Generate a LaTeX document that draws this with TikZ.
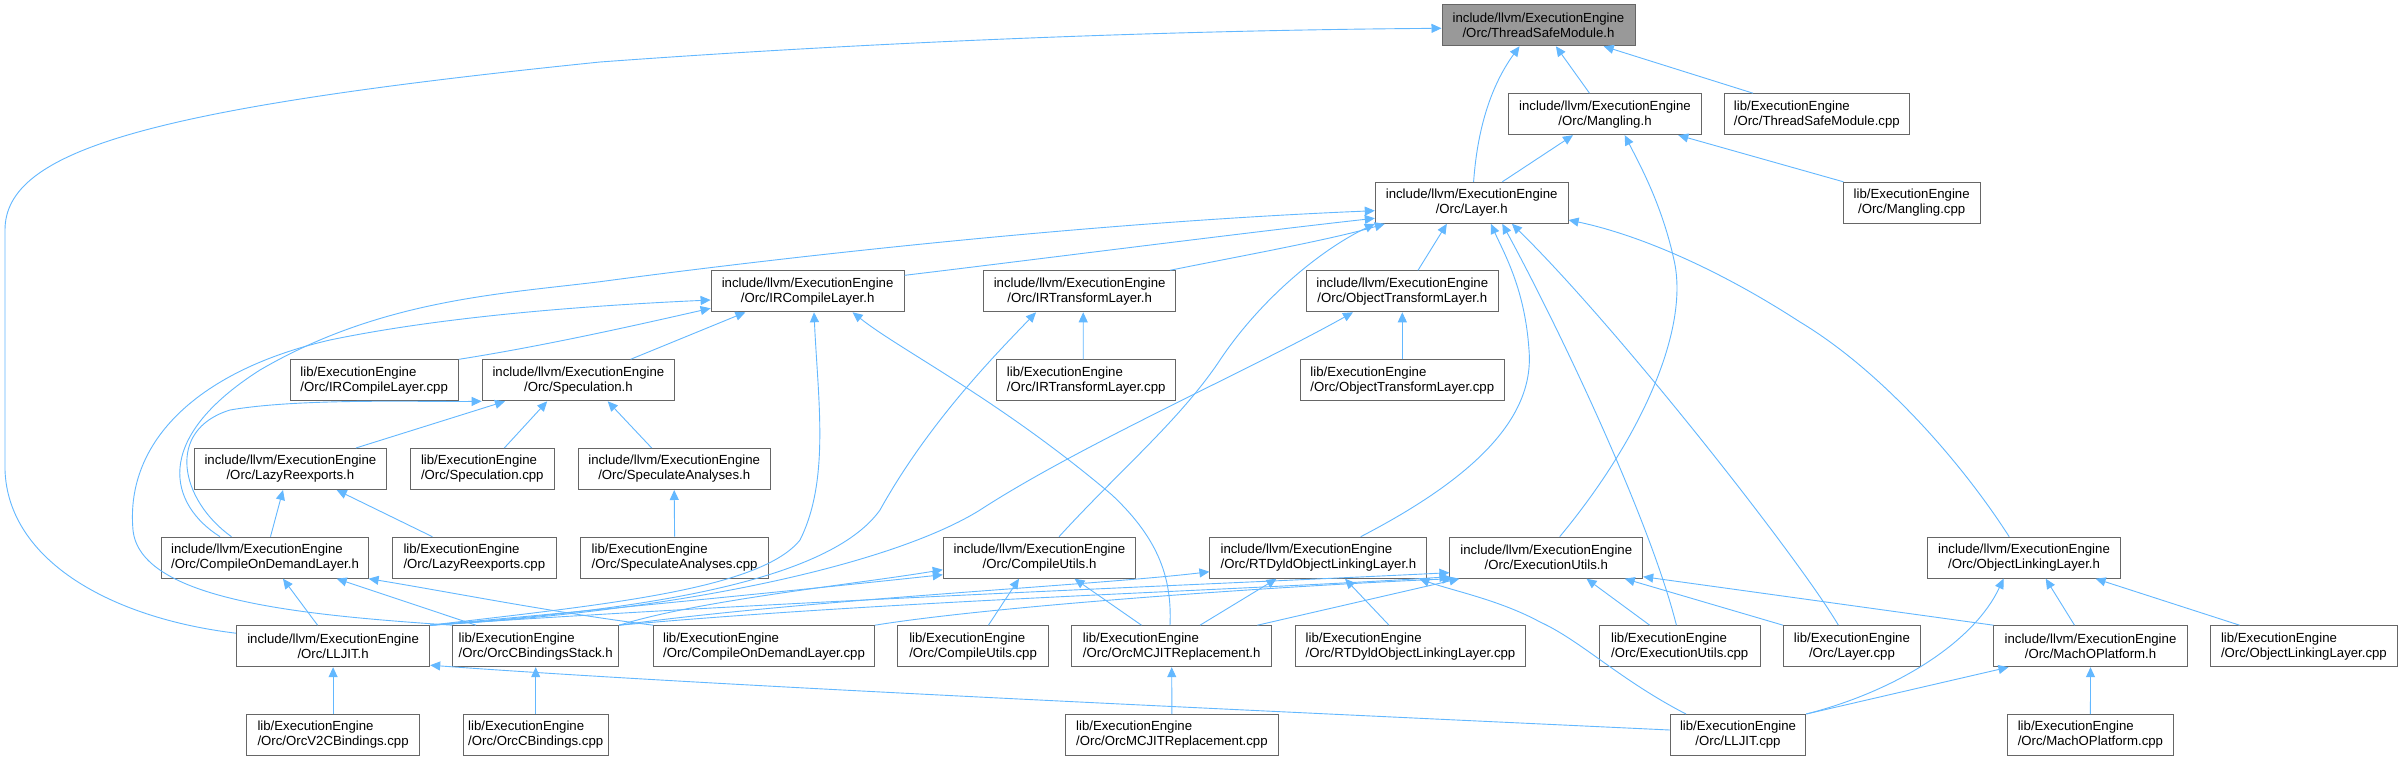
\documentclass[tikz,border=0pt]{standalone}
\usepackage{fontspec}
\setmainfont{Liberation Sans}
\usetikzlibrary{arrows.meta}
\definecolor{edgeblue}{HTML}{63B8FF}
\definecolor{boxgray}{HTML}{666666}
\definecolor{tsmfill}{HTML}{999999}
\newcommand{\nodefont}{\fontsize{13.2pt}{15pt}\selectfont}
\begin{document}
\begin{tikzpicture}[x=1pt,y=-1pt,
  box/.style={draw=boxgray, line width=1pt, fill=white, font=\nodefont, inner xsep=4pt, inner ysep=0pt, minimum height=41pt, anchor=center},
  lft/.style={align=left},
  ctr/.style={align=center},
  dep/.style={draw=edgeblue, line width=0.9pt, -{Triangle[length=10pt,width=9pt]}}]
\useasboundingbox[fill=white] (0,0) rectangle (2402,761);
% row 0-2
\node[box, ctr, fill=tsmfill, minimum width=193pt] (TSM) at (1538.5,25.3) {include/llvm/ExecutionEngine\\/Orc/ThreadSafeModule.h};
\node[box, ctr, minimum width=192.5pt] (Mang) at (1605,114.2) {include/llvm/ExecutionEngine\\/Orc/Mangling.h};
\node[box, lft, minimum width=185pt] (TSMcpp) at (1816.8,114.2) {lib/ExecutionEngine\\/Orc/ThreadSafeModule.cpp};
\node[box, ctr, minimum width=136.6pt] (Mangcpp) at (1911.7,202.8) {lib/ExecutionEngine\\/Orc/Mangling.cpp};
\node[box, ctr, minimum width=192.8pt] (Layer) at (1471.7,202.8) {include/llvm/ExecutionEngine\\/Orc/Layer.h};
% row 3
\node[box, ctr, minimum width=193pt] (IRC) at (807.6,291.3) {include/llvm/ExecutionEngine\\/Orc/IRCompileLayer.h};
\node[box, ctr, minimum width=192.5pt] (IRT) at (1079.6,291.3) {include/llvm/ExecutionEngine\\/Orc/IRTransformLayer.h};
\node[box, ctr, minimum width=192.5pt] (OTL) at (1402.3,291.3) {include/llvm/ExecutionEngine\\/Orc/ObjectTransformLayer.h};
% row 4
\node[box, lft, minimum width=168.4pt] (IRCcpp) at (374.2,380.3) {lib/ExecutionEngine\\/Orc/IRCompileLayer.cpp};
\node[box, ctr, minimum width=192.5pt] (Spec) at (578.4,380.3) {include/llvm/ExecutionEngine\\/Orc/Speculation.h};
\node[box, lft, minimum width=179.5pt] (IRTcpp) at (1086.2,380.3) {lib/ExecutionEngine\\/Orc/IRTransformLayer.cpp};
\node[box, lft, minimum width=204pt] (OTLcpp) at (1402.3,380.3) {lib/ExecutionEngine\\/Orc/ObjectTransformLayer.cpp};
% row 5
\node[box, ctr, minimum width=192pt] (Lazy) at (290.4,469) {include/llvm/ExecutionEngine\\/Orc/LazyReexports.h};
\node[box, lft, minimum width=143.5pt] (Speccpp) at (482.3,469) {lib/ExecutionEngine\\/Orc/Speculation.cpp};
\node[box, ctr, minimum width=192pt] (SA) at (674.2,469) {include/llvm/ExecutionEngine\\/Orc/SpeculateAnalyses.h};
% row 6
\node[box, lft, minimum width=206.2pt] (CODL) at (265,557.7) {include/llvm/ExecutionEngine\\/Orc/CompileOnDemandLayer.h};
\node[box, lft, minimum width=163.4pt] (Lazycpp) at (474.3,557.7) {lib/ExecutionEngine\\/Orc/LazyReexports.cpp};
\node[box, lft, minimum width=187.5pt] (SAcpp) at (674.6,557.7) {lib/ExecutionEngine\\/Orc/SpeculateAnalyses.cpp};
\node[box, ctr, minimum width=192.5pt] (CU) at (1039.5,557.7) {include/llvm/ExecutionEngine\\/Orc/CompileUtils.h};
\node[box, lft, minimum width=217pt] (RTD) at (1318.4,557.7) {include/llvm/ExecutionEngine\\/Orc/RTDyldObjectLinkingLayer.h};
\node[box, ctr, minimum width=192.8pt] (EU) at (1546.3,557.7) {include/llvm/ExecutionEngine\\/Orc/ExecutionUtils.h};
\node[box, ctr, minimum width=193pt] (OLL) at (2024,557.7) {include/llvm/ExecutionEngine\\/Orc/ObjectLinkingLayer.h};
% row 7
\node[box, ctr, minimum width=193.2pt] (LLJIT) at (333.1,646.2) {include/llvm/ExecutionEngine\\/Orc/LLJIT.h};
\node[box, lft, minimum width=166pt] (OBS) at (535.7,646.2) {lib/ExecutionEngine\\/Orc/OrcCBindingsStack.h};
\node[box, lft, minimum width=220.8pt] (CODLcpp) at (764,646.2) {lib/ExecutionEngine\\/Orc/CompileOnDemandLayer.cpp};
\node[box, lft, minimum width=150.8pt] (CUcpp) at (973.1,646.2) {lib/ExecutionEngine\\/Orc/CompileUtils.cpp};
\node[box, lft, minimum width=199.8pt] (MCJ) at (1171.7,646.2) {lib/ExecutionEngine\\/Orc/OrcMCJITReplacement.h};
\node[box, lft, minimum width=230.3pt] (RTDcpp) at (1410.5,646.2) {lib/ExecutionEngine\\/Orc/RTDyldObjectLinkingLayer.cpp};
\node[box, lft, minimum width=161.1pt] (EUcpp) at (1679.7,646.2) {lib/ExecutionEngine\\/Orc/ExecutionUtils.cpp};
\node[box, ctr, minimum width=136.7pt] (Layercpp) at (1851.9,646.2) {lib/ExecutionEngine\\/Orc/Layer.cpp};
\node[box, ctr, minimum width=193.1pt] (MachO) at (2090.5,646.2) {include/llvm/ExecutionEngine\\/Orc/MachOPlatform.h};
\node[box, lft, minimum width=186.2pt] (OLLcpp) at (2303.9,646.2) {lib/ExecutionEngine\\/Orc/ObjectLinkingLayer.cpp};
% row 8
\node[box, lft, minimum width=173.4pt] (V2) at (333.1,735) {lib/ExecutionEngine\\/Orc/OrcV2CBindings.cpp};
\node[box, lft, minimum width=145.4pt] (OCB) at (535.7,735) {lib/ExecutionEngine\\/Orc/OrcCBindings.cpp};
\node[box, lft, minimum width=213pt] (MCJcpp) at (1171.9,735) {lib/ExecutionEngine\\/Orc/OrcMCJITReplacement.cpp};
\node[box, ctr, minimum width=135.5pt] (LLJITcpp) at (1738,735) {lib/ExecutionEngine\\/Orc/LLJIT.cpp};
\node[box, lft, minimum width=166.2pt] (MachOcpp) at (2090.4,735) {lib/ExecutionEngine\\/Orc/MachOPlatform.cpp};

% ---- edges (child -> included header) ----
\draw[dep] ([yshift=13pt]LLJIT.west) .. controls (110,618) and (8,560) .. (5,470) -- (5,230) .. controls (5,150) and (150,108) .. (600,62) .. controls (900,40) and (1200,30) .. ([yshift=-3pt]TSM.west);
\draw[dep] ([xshift=1.9pt]Layer.north) .. controls (1478,120) and (1495,80) .. ([xshift=-19pt]TSM.south);
\draw[dep] ([xshift=-15.5pt]Mang.north) -- ([xshift=17.4pt]TSM.south);
\draw[dep] ([xshift=-63.8pt]TSMcpp.north) -- ([xshift=65.2pt]TSM.south);
\draw[dep] ([xshift=30.6pt]Layer.north) -- ([xshift=-32pt]Mang.south);
\draw[dep] ([xshift=-68.3pt]Mangcpp.north) -- ([xshift=73.3pt]Mang.south);
\draw[dep] ([xshift=13.4pt]EU.north) .. controls (1640,440) and (1690,330) .. (1674,260) .. controls (1662,205) and (1640,165) .. ([xshift=19.7pt]Mang.south);
% Layer.h
\draw[dep] ([yshift=-5pt]IRC.north east) .. controls (1000,264) and (1250,232) .. ([yshift=-15.5pt]Layer.west);
\draw[dep] ([xshift=90.4pt]IRT.north) .. controls (1230,258) and (1330,240) .. ([xshift=10pt]Layer.south west);
\draw[dep] ([xshift=15.7pt]OTL.north) -- ([xshift=-24.9pt]Layer.south);
\draw[dep] ([xshift=-45pt]CODL.north) .. controls (170,505) and (150,440) .. (260,370) .. controls (380,300) and (500,294) .. (600,281.7) .. controls (800,255) and (1100,222) .. ([yshift=-7.9pt]Layer.west);
\draw[dep] ([xshift=19.5pt]CU.north) .. controls (1120,470) and (1180,420) .. (1220,360) .. controls (1260,300) and (1320,250) .. (Layer.south west);
\draw[dep] ([xshift=42.3pt]RTD.north) .. controls (1470,480) and (1535,420) .. (1529,350) .. controls (1525,290) and (1505,255) .. ([xshift=19.1pt]Layer.south);
\draw[dep] ([xshift=-3.3pt]EUcpp.north) .. controls (1650,520) and (1560,330) .. ([xshift=30.6pt]Layer.south);
\draw[dep] ([xshift=-13.5pt]Layercpp.north) .. controls (1800,560) and (1620,330) .. ([xshift=40.2pt]Layer.south);
\draw[dep] ([xshift=-14.8pt]OLL.north) .. controls (1960,460) and (1880,370) .. (1800,322) .. controls (1720,270) and (1640,235) .. ([yshift=-17.2pt]Layer.east);
% IRCompileLayer.h
\draw[dep] (IRCcpp.north east) .. controls (550,345) and (650,322) .. ([yshift=4pt]IRC.south west);
\draw[dep] ([xshift=52.2pt]Spec.north) -- ([xshift=-62.2pt]IRC.south);
\draw[dep] (OBS.north west) .. controls (300,615) and (140,600) .. (133,530) .. controls (125,440) and (200,370) .. (330,340) .. controls (450,315) and (600,305) .. ([yshift=-8.7pt]IRC.west);
\draw[dep] (LLJIT.north east) .. controls (600,605) and (760,590) .. (800,540) .. controls (830,480) and (818,400) .. ([xshift=6.4pt]IRC.south);
\draw[dep] ([xshift=-1.7pt]MCJ.north) .. controls (1172,580) and (1160,540) .. (1112,495) .. controls (1000,400) and (900,350) .. ([xshift=45pt]IRC.south);
% IRTransformLayer.h / ObjectTransformLayer.h
\draw[dep] (LLJIT.north east) .. controls (650,610) and (830,580) .. (880,510) .. controls (930,420) and (1000,350) .. ([xshift=-43.6pt]IRT.south);
\draw[dep] ([xshift=-3pt]IRTcpp.north) -- ([xshift=3.6pt]IRT.south);
\draw[dep] (LLJIT.north east) .. controls (700,610) and (900,560) .. (980,510) .. controls (1080,445) and (1250,370) .. ([xshift=-49.3pt]OTL.south);
\draw[dep] (OTLcpp.north) -- (OTL.south);
% Speculation family
\draw[dep] ([xshift=-33.5pt]CODL.north) .. controls (180,500) and (165,430) .. (230,410) .. controls (300,398) and (420,402) .. (Spec.south west);
\draw[dep] ([xshift=65.5pt]Lazy.north) -- ([xshift=-73.4pt]Spec.south);
\draw[dep] ([xshift=22pt]Speccpp.north) -- ([xshift=-31.2pt]Spec.south);
\draw[dep] ([xshift=-22.5pt]SA.north) -- ([xshift=29.3pt]Spec.south);
\draw[dep] (SAcpp.north) -- (SA.south);
\draw[dep] ([xshift=-41.9pt]Lazycpp.north) -- ([xshift=46.3pt]Lazy.south);
\draw[dep] ([xshift=5.5pt]CODL.north) -- ([xshift=-7.4pt]Lazy.south);
% CompileOnDemandLayer.h
\draw[dep] ([xshift=-15.5pt]LLJIT.north) -- ([xshift=18pt]CODL.south);
\draw[dep] ([xshift=-59.7pt]OBS.north) -- ([xshift=71.7pt]CODL.south);
\draw[dep] (CODLcpp.north west) .. controls (550,612) and (450,592) .. (CODL.south east);
% CompileUtils.h
\draw[dep] (LLJIT.north east) .. controls (600,610) and (800,590) .. ([yshift=-17pt]CU.west);
\draw[dep] (OBS.north east) .. controls (700,600) and (850,585) .. ([yshift=-12pt]CU.west);
\draw[dep] ([xshift=15.3pt]CUcpp.north) -- ([xshift=-20.5pt]CU.south);
\draw[dep] ([xshift=-30.2pt]MCJ.north) -- ([xshift=35pt]CU.south);
% RTDyld
\draw[dep] (OBS.north east) .. controls (800,600) and (1100,585) .. ([yshift=-14pt]RTD.west);
\draw[dep] ([xshift=28.3pt]MCJ.north) -- ([xshift=-41.9pt]RTD.south);
\draw[dep] ([xshift=-21.5pt]RTDcpp.north) -- ([xshift=26.6pt]RTD.south);
\draw[dep] ([xshift=-52pt]LLJITcpp.north) .. controls (1620,680) and (1580,640) .. (1540,622) .. controls (1500,600) and (1450,590) .. ([xshift=-8pt]RTD.south east);
% ExecutionUtils.h
\draw[dep] (LLJIT.north east) .. controls (800,600) and (1200,585) .. ([yshift=6pt]EU.south west);
\draw[dep] (OBS.north east) .. controls (900,600) and (1250,590) .. ([yshift=2pt]EU.south west);
\draw[dep] (CODLcpp.north east) .. controls (1000,605) and (1300,585) .. ([xshift=3pt]EU.south west);
\draw[dep] ([xshift=85.7pt]MCJ.north) -- ([xshift=10pt]EU.south west);
\draw[dep] ([xshift=-30pt]EUcpp.north) -- ([xshift=40.2pt]EU.south);
\draw[dep] (Layercpp.north west) -- ([xshift=78.4pt]EU.south);
\draw[dep] (MachO.north west) -- ([yshift=2pt]EU.south east);
% ObjectLinkingLayer / MachO
\draw[dep] ([xshift=-64.3pt]OLLcpp.north) -- ([xshift=71.6pt]OLL.south);
\draw[dep] ([xshift=-16pt]MachO.north) -- ([xshift=21.7pt]OLL.south);
\draw[dep] (LLJITcpp.north east) .. controls (1900,690) and (1975,640) .. ([xshift=-20.5pt]OLL.south);
\draw[dep] (LLJITcpp.north east) -- ([xshift=15pt]MachO.south west);
% bottom row
\draw[dep] ([yshift=5pt]LLJITcpp.west) .. controls (1200,708) and (700,685) .. ([yshift=2pt]LLJIT.south east);
\draw[dep] (V2.north) -- (LLJIT.south);
\draw[dep] (OCB.north) -- (OBS.south);
\draw[dep] (MCJcpp.north) -- (MCJ.south);
\draw[dep] (MachOcpp.north) -- (MachO.south);
\end{tikzpicture}
\end{document}
